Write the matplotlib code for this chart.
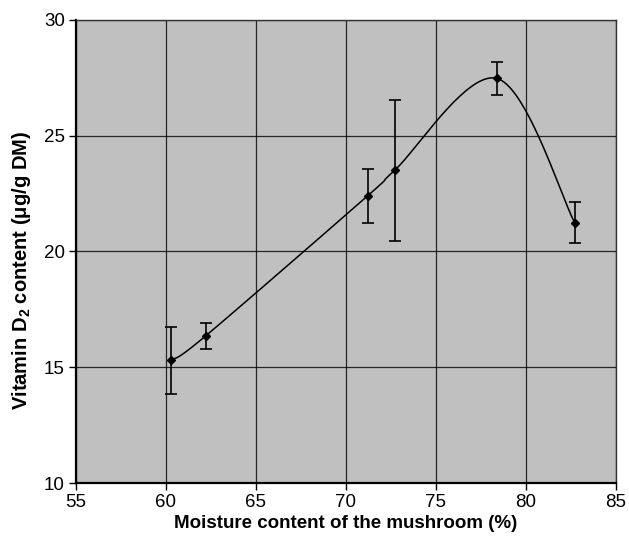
import numpy as np
import matplotlib.pyplot as plt

plt.rcParams['font.family'] = ['Liberation Sans', 'DejaVu Sans']
plt.rcParams['mathtext.default'] = 'regular'

# Data
moisture = [60.3, 62.2, 71.2, 72.7, 78.4, 82.7]
vitamin_d2 = [15.3, 16.35, 22.4, 23.5, 27.47, 21.25]
err = [1.45, 0.55, 1.18, 3.03, 0.72, 0.9]


def smooth_curve(x, y, n=40):
    # Excel-style smoothed line (Catmull-Rom bezier)
    x = np.asarray(x, float)
    y = np.asarray(y, float)
    px = np.concatenate([[x[0]], x, [x[-1]]])
    py = np.concatenate([[y[0]], y, [y[-1]]])
    xs, ys = [], []
    t = np.linspace(0, 1, n)
    for i in range(1, len(px) - 2):
        p0 = np.array([px[i - 1], py[i - 1]])
        p1 = np.array([px[i], py[i]])
        p2 = np.array([px[i + 1], py[i + 1]])
        p3 = np.array([px[i + 2], py[i + 2]])
        c1 = p1 + (p2 - p0) / 6
        c2 = p2 - (p3 - p1) / 6
        b = ((1 - t) ** 3)[:, None] * p1 + (3 * (1 - t) ** 2 * t)[:, None] * c1 \
            + (3 * (1 - t) * t ** 2)[:, None] * c2 + (t ** 3)[:, None] * p2
        xs.extend(b[:, 0])
        ys.extend(b[:, 1])
    return xs, ys


fig = plt.figure(figsize=(6.29, 5.41), dpi=100)
ax = fig.add_axes([0.1208, 0.1072, 0.8585, 0.856])
ax.set_facecolor('#c0c0c0')

sx, sy = smooth_curve(moisture, vitamin_d2)
ax.plot(sx, sy, color='black', lw=1.1, zorder=3)
ax.errorbar(moisture, vitamin_d2, yerr=err, fmt='D', color='black', ms=4.5,
            ecolor='black', elinewidth=1.2, capsize=4, capthick=1.2, zorder=4)

ax.set_xlim(55, 85)
ax.set_ylim(10, 30)
ax.set_xticks(range(55, 86, 5))
ax.set_yticks(range(10, 31, 5))
ax.grid(True, color='black', lw=0.9, alpha=0.8)
ax.set_axisbelow(True)

for s in ['left', 'bottom']:
    ax.spines[s].set_linewidth(1.6)
for s in ['top', 'right']:
    ax.spines[s].set_linewidth(1.0)
    ax.spines[s].set_color('#333333')

ax.tick_params(direction='out', length=5, width=1, labelsize=13.5, pad=3)
ax.set_xlabel('Moisture content of the mushroom (%)', fontsize=13.5, fontweight='bold', labelpad=3)
ax.set_ylabel('Vitamin D$_2$ content (μg/g DM)', fontsize=14.5, fontweight='bold')
ax.yaxis.set_label_coords(-0.08, 0.458)

fig.savefig('out.png', dpi=100)
